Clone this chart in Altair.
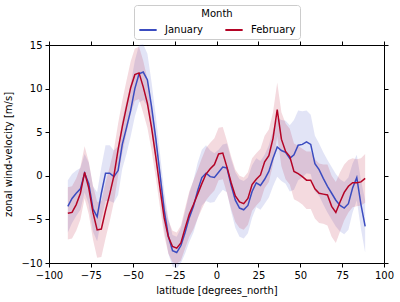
import altair as alt
import pandas as pd

lat = [-88.75, -86.25, -83.75, -81.25, -78.75, -76.25, -73.75, -71.25, -68.75, -66.25,
       -63.75, -61.25, -58.75, -56.25, -53.75, -51.25, -48.75, -46.25, -43.75, -41.25,
       -38.75, -36.25, -33.75, -31.25, -28.75, -26.25, -23.75, -21.25, -18.75, -16.25,
       -13.75, -11.25, -8.75, -6.25, -3.75, -1.25, 1.25, 3.75, 6.25, 8.75,
       11.25, 13.75, 16.25, 18.75, 21.25, 23.75, 26.25, 28.75, 31.25, 33.75,
       36.25, 38.75, 41.25, 43.75, 46.25, 48.75, 51.25, 53.75, 56.25, 58.75,
       61.25, 63.75, 66.25, 68.75, 71.25, 73.75, 76.25, 78.75, 81.25, 83.75,
       86.25, 88.75]

january = [-3.5, -2.6, -2.0, -1.5, 0.3, -0.9, -3.8, -4.7, -2.0, 0.3,
           0.3, -0.1, 0.6, 3.6, 5.5, 7.5, 10.0, 11.7, 11.9, 11.0,
           7.9, 4.3, 0.2, -3.9, -6.9, -8.6, -8.8, -8.0, -6.5, -4.8,
           -3.5, -1.7, -0.2, 0.3, -0.1, -0.2, 0.4, 1.0, 0.9, -1.1,
           -2.8, -3.7, -3.9, -3.4, -1.8, -0.8, -1.1, -0.4, 0.5, 2.0,
           3.3, 2.9, 2.7, 2.0, 2.4, 3.5, 3.6, 3.9, 3.6, 1.4,
           0.7, -0.3, -1.2, -2.0, -2.8, -3.4, -3.7, -3.2, -1.4, -0.2,
           -3.3, -5.8]

february = [-4.3, -4.2, -3.3, -2.0, 0.4, -1.4, -4.2, -6.2, -6.1, -4.0,
            -2.1, 0.0, 3.0, 5.6, 7.9, 10.1, 11.6, 11.8, 10.2, 8.3,
            5.5, 2.2, -1.4, -4.8, -7.0, -8.1, -8.3, -7.7, -6.0, -4.4,
            -3.3, -2.1, -0.9, 0.2, 0.8, 1.3, 2.5, 2.6, 1.0, -0.8,
            -2.3, -3.0, -3.2, -2.6, -1.0, -0.4, 0.1, 1.6, 2.3, 4.3,
            7.6, 4.2, 2.8, 2.2, 0.5, 0.25, -0.1, -0.5, -0.5, -1.5,
            -2.0, -2.1, -2.2, -3.5, -4.2, -3.0, -1.9, -1.2, -0.8, -0.8,
            -0.7, -0.3]

january_spread = [3.0, 2.8, 2.6, 2.4, 2.2, 2.4, 2.6, 2.8, 3.0, 3.2,
                  3.2, 3.0, 2.8, 2.8, 3.0, 3.0, 3.2, 3.3, 3.2, 3.0,
                  2.8, 2.6, 2.4, 2.2, 2.0, 1.8, 1.8, 2.0, 2.4, 2.8,
                  3.0, 3.2, 3.2, 3.2, 3.0, 2.8, 2.6, 2.6, 2.8, 3.0,
                  3.2, 3.3, 3.3, 3.2, 3.0, 2.8, 2.8, 2.8, 3.0, 3.2,
                  3.4, 3.5, 3.6, 3.8, 4.0, 4.0, 3.8, 3.6, 3.4, 3.2,
                  3.0, 3.0, 3.0, 3.0, 3.0, 3.0, 3.0, 3.0, 2.8, 2.6,
                  2.8, 3.0]

february_spread = [3.0, 3.0, 3.0, 3.0, 3.0, 3.0, 3.1, 3.2, 3.2, 3.2,
                   3.1, 3.0, 3.0, 3.0, 3.0, 3.0, 3.0, 3.0, 3.0, 2.8,
                   2.6, 2.4, 2.2, 2.0, 1.9, 1.8, 1.8, 2.0, 2.3, 2.6,
                   2.8, 2.8, 2.9, 3.0, 3.0, 3.0, 3.0, 3.0, 3.0, 3.0,
                   3.0, 3.0, 3.0, 3.0, 3.0, 3.0, 3.0, 3.0, 3.0, 3.0,
                   3.1, 3.1, 3.2, 3.2, 3.2, 3.2, 3.2, 3.3, 3.3, 3.4,
                   3.4, 3.4, 3.5, 3.5, 3.5, 3.4, 3.2, 3.0, 2.8, 2.7,
                   2.7, 2.8]

months = ["January", "February"]
colors = ["#3b4cc0", "#b40426"]

df = pd.concat([
    pd.DataFrame({"lat": lat, "wind": january, "spread": january_spread, "Month": "January"}),
    pd.DataFrame({"lat": lat, "wind": february, "spread": february_spread, "Month": "February"}),
], ignore_index=True)

FONT = "DejaVu Sans"

xscale = alt.Scale(domain=[-100, 100], nice=False, zero=False)
yscale = alt.Scale(domain=[-10, 15], nice=False, zero=False)
color = alt.Color("Month:N", scale=alt.Scale(domain=months, range=colors),
                  sort=months,
                  legend=alt.Legend(title="Month", orient="none", legendX=85, legendY=-40,
                                    direction="horizontal", columns=2,
                                    symbolType="stroke", symbolSize=300, symbolStrokeWidth=2,
                                    symbolOpacity=1,
                                    titleAnchor="middle", titleFontWeight="normal",
                                    titleFontSize=10, labelFontSize=10, titleFont=FONT, labelFont=FONT,
                                    titleColor="black", labelColor="black",
                                    strokeColor="#cccccc", fillColor="white", padding=4,
                                    cornerRadius=3, columnPadding=18, labelOffset=7,
                                    titlePadding=1))

xticks = [-100, -75, -50, -25, 0, 25, 50, 75, 100]
yticks = [-10, -5, 0, 5, 10, 15]

axis_common = dict(grid=False, tickColor="black", domainColor="black", tickSize=4,
                   labelFont=FONT, titleFont=FONT, labelFontSize=10, titleFontSize=10,
                   labelColor="black", titleColor="black", titleFontWeight="normal",
                   labelPadding=3, labelFlush=False)

xaxis = alt.Axis(orient="bottom", values=xticks, title="latitude [degrees_north]",
                 titlePadding=5, **axis_common)
yaxis = alt.Axis(orient="left", values=yticks, title="zonal wind-velocity [m/s]",
                 titlePadding=7, **axis_common)
xaxis_top = alt.Axis(orient="top", values=xticks, labels=False, title=None,
                     grid=False, tickColor="black", domainColor="black", tickSize=4)
yaxis_right = alt.Axis(orient="right", values=yticks, labels=False, title=None,
                       grid=False, tickColor="black", domainColor="black", tickSize=4)

base = alt.Chart(df).transform_calculate(
    lower="datum.wind - datum.spread",
    upper="datum.wind + datum.spread",
)

bands = base.mark_area(opacity=0.15).encode(
    x=alt.X("lat:Q", scale=xscale, axis=xaxis_top),
    y=alt.Y("lower:Q", scale=yscale, axis=yaxis_right),
    y2="upper:Q",
    color=color,
    detail="Month:N",
)

lines = base.mark_line(strokeWidth=1.5).encode(
    x=alt.X("lat:Q", scale=xscale, axis=xaxis),
    y=alt.Y("wind:Q", scale=yscale, axis=yaxis),
    color=color,
    order=alt.Order("lat:Q"),
)

chart = alt.layer(bands, lines).properties(
    width=335, height=218,
    autosize=alt.AutoSizeParams(type="none"),
    padding={"left": 49, "top": 45, "right": 16, "bottom": 39},
).configure_view(stroke="black", strokeWidth=1).configure(background="white")

chart.save("out.html", embed_options={"renderer": "svg", "actions": False})
